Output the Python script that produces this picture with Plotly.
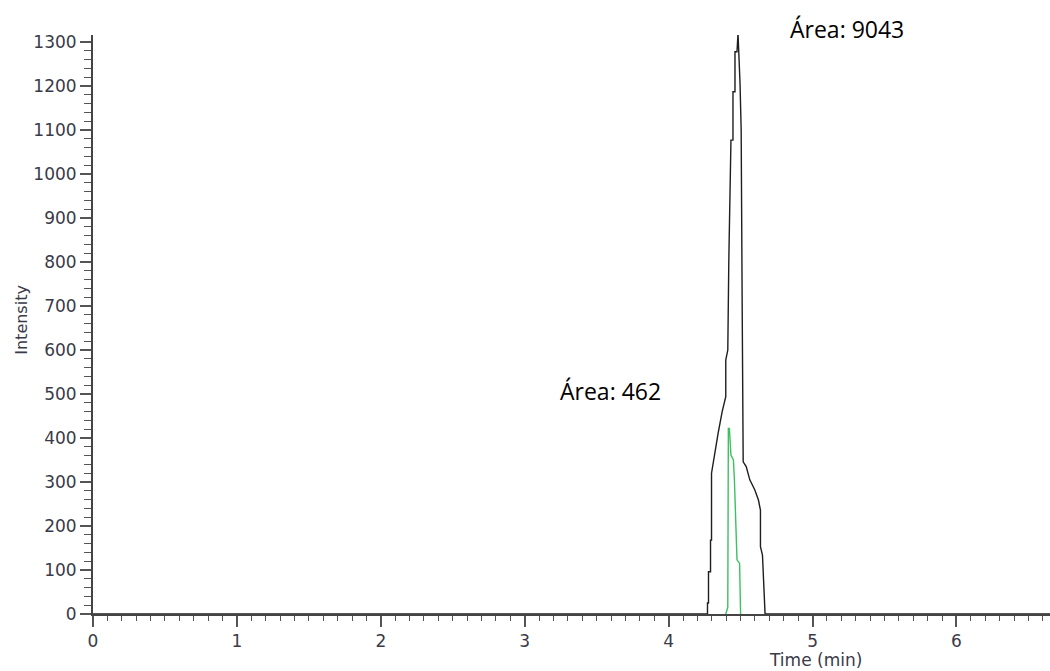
import plotly.graph_objects as go

# Black trace (total ion) : time (min), intensity
black_t = [0.0, 1.0, 2.0, 3.0, 4.0, 4.270, 4.270, 4.277, 4.277, 4.291, 4.291, 4.298, 4.298,
           4.326, 4.344, 4.372, 4.397, 4.397, 4.411, 4.418, 4.433, 4.447, 4.447, 4.461, 4.461,
           4.475, 4.482, 4.496, 4.504, 4.511, 4.518, 4.539, 4.564, 4.599, 4.624, 4.638, 4.638,
           4.652, 4.663, 4.670, 5.0, 6.0, 6.65]
black_v = [0, 0, 0, 0, 0, 0, 25, 25, 96, 96, 168, 168, 320,
           380, 411, 460, 494, 577, 600, 800, 1077, 1077, 1187, 1187, 1278,
           1278, 1320, 1207, 1100, 700, 346, 335, 305, 282, 259, 236, 153,
           134, 47, 0, 0, 0, 0]

# Green trace
green_t = [4.397, 4.411, 4.415, 4.422, 4.433, 4.450, 4.457, 4.465, 4.472, 4.475, 4.493, 4.500]
green_v = [0, 15, 422, 422, 361, 350, 305, 240, 183, 123, 115, 0]

y_ticks = list(range(0, 1400, 100))
x_ticks = [0, 1, 2, 3, 4, 5, 6]

FONT = "DejaVu Sans"
TICKC = "#3a3a48"

fig = go.Figure()
fig.add_trace(go.Scatter(x=black_t, y=black_v, mode="lines",
                         line=dict(color="#1e1e1e", width=1.4), showlegend=False))
fig.add_trace(go.Scatter(x=green_t, y=green_v, mode="lines",
                         line=dict(color="#3cc060", width=1.4), showlegend=False))

fig.update_layout(
    width=1050, height=671,
    margin=dict(l=93, r=0, t=35, b=57),
    paper_bgcolor="white", plot_bgcolor="white",
    xaxis=dict(range=[0, 6.65], tickvals=x_ticks, ticktext=[str(v) for v in x_ticks],
               showgrid=False, zeroline=False, showline=True, linecolor="#444", linewidth=2,
               ticks="outside", ticklen=11, tickwidth=1.5, tickcolor="#555",
               minor=dict(dtick=0.1, ticks="outside", ticklen=5, tickwidth=1.2, tickcolor="#555"),
               tickfont=dict(family=FONT, size=17, color=TICKC)),
    yaxis=dict(range=[0, 1316], tickvals=y_ticks, ticktext=[str(v) for v in y_ticks],
               showgrid=False, zeroline=False, showline=True, linecolor="#444", linewidth=2,
               ticks="outside", ticklen=11, tickwidth=1.5, tickcolor="#555",
               minor=dict(dtick=20, ticks="outside", ticklen=7, tickwidth=1.2, tickcolor="#555"),
               tickfont=dict(family=FONT, size=17, color=TICKC)),
    annotations=[
        dict(text="Time (min)", xref="paper", yref="paper", x=(815 - 93) / 957, y=-0.0795,
             xanchor="center", yanchor="middle", showarrow=False,
             font=dict(family=FONT, size=17, color=TICKC)),
        dict(text="Intensity", xref="paper", yref="paper", x=-0.0755, y=(614 - 320) / 579,
             xanchor="center", yanchor="middle", showarrow=False, textangle=-90,
             font=dict(family=FONT, size=16, color=TICKC)),
        dict(text="Área: 9043", xref="paper", yref="paper", x=(788 - 93) / 957, y=(614 - 29) / 579,
             xanchor="left", yanchor="middle", showarrow=False,
             font=dict(family="Open Sans", size=23, color="black")),
        dict(text="Área: 462", xref="x", yref="y", x=3.23, y=507,
             xanchor="left", yanchor="middle", showarrow=False,
             font=dict(family="Open Sans", size=23, color="black")),
    ],
)

fig.write_html("out.html")
